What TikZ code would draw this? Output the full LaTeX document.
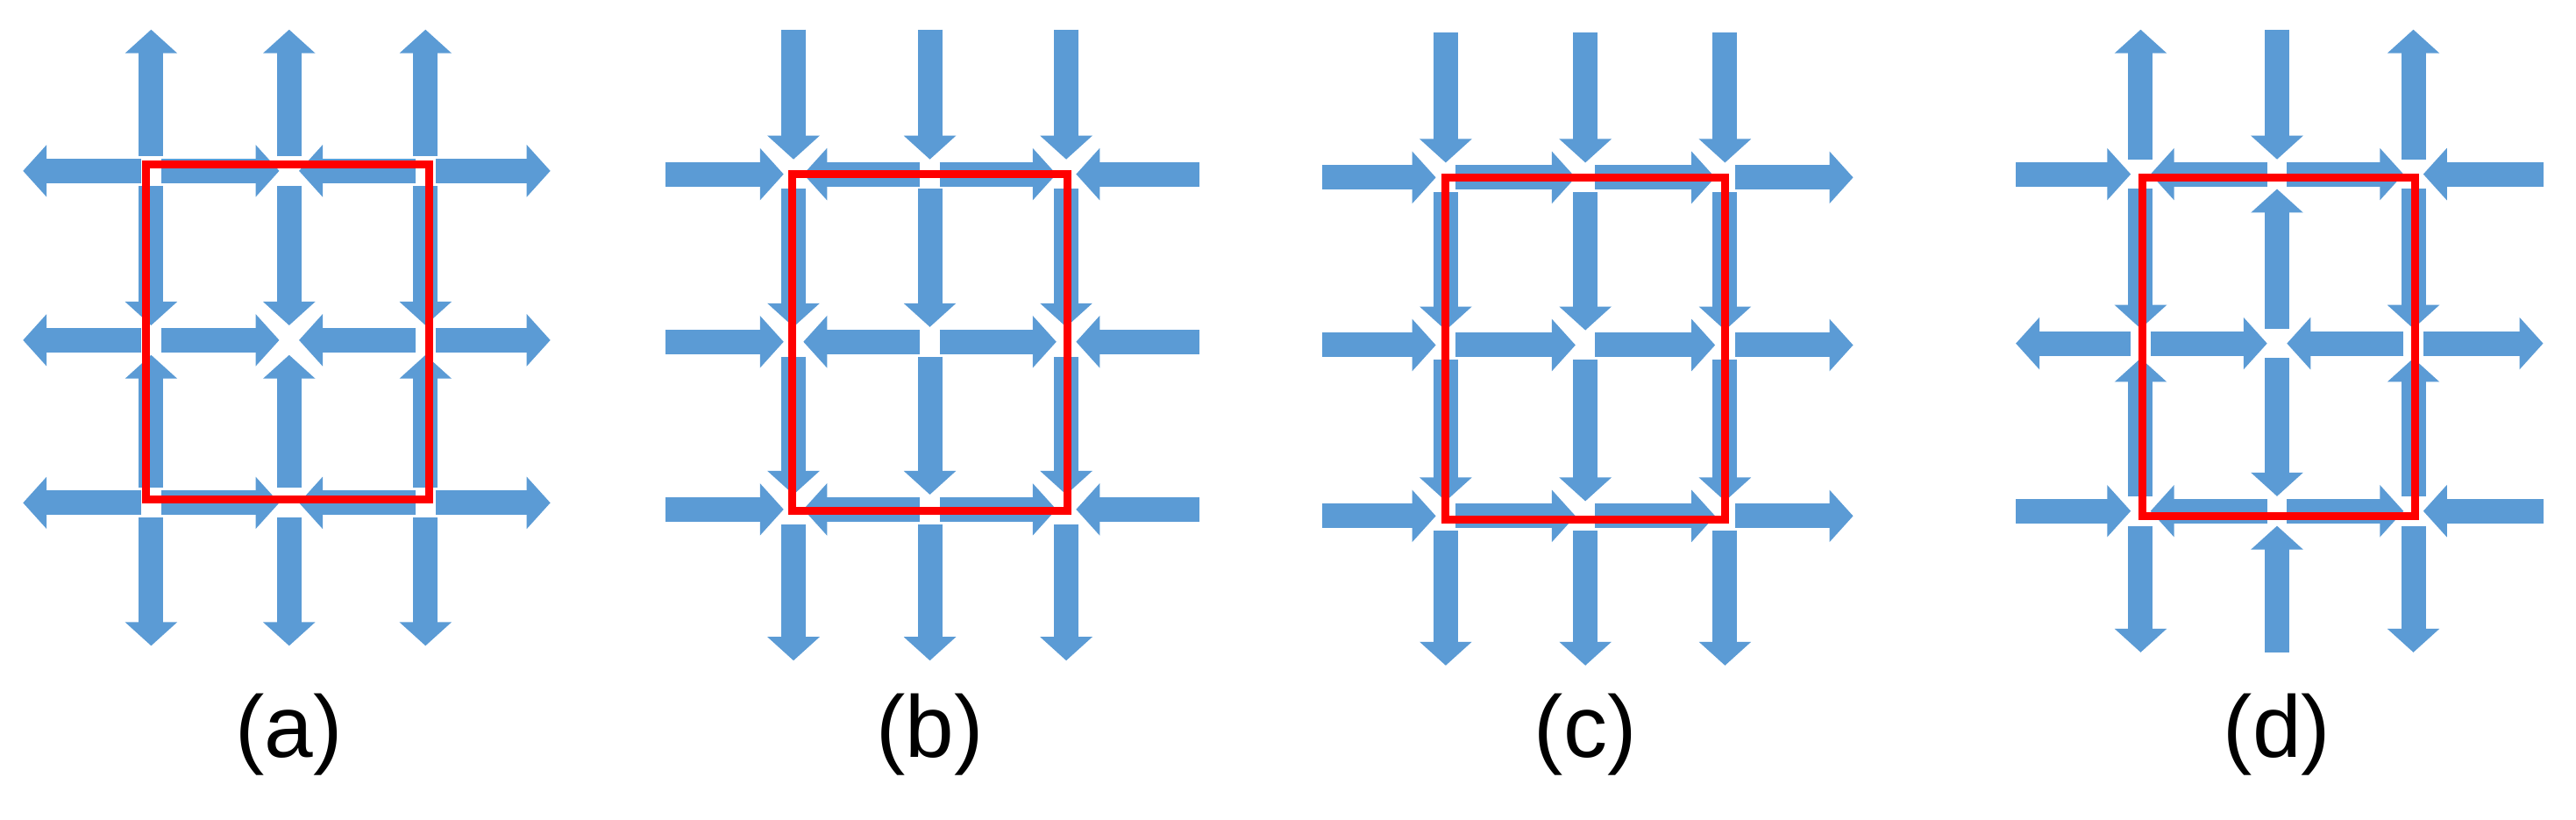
\documentclass[tikz,border=0pt]{standalone}
\usepackage{fontspec}
\setmainfont{Liberation Sans}
\usetikzlibrary{arrows.meta}
\definecolor{ablue}{HTML}{5B9BD5}
\tikzset{blk/.style={draw=ablue,line width=28pt,-{Triangle[width=58pt,length=27pt]}},
 redbox/.style={draw=red,line width=9pt},
 lbl/.style={font=\fontsize{100}{110}\selectfont}}
\newcommand\seg[5]{\if#1f\draw[blk] (#2,#3)--(#4,#5);\else\draw[blk] (#4,#5)--(#2,#3);\fi}
\newcommand\tops[3]{\seg{#1}{\ca}{\T}{\ca}{\ra-9}\seg{#2}{\cb}{\T}{\cb}{\ra-9}\seg{#3}{\cc}{\T}{\cc}{\ra-9}}
\newcommand\bots[3]{\seg{#1}{\ca}{\B}{\ca}{\rc+9}\seg{#2}{\cb}{\B}{\cb}{\rc+9}\seg{#3}{\cc}{\B}{\cc}{\rc+9}}
\newcommand\lefts[3]{\seg{#1}{\L}{\ra}{\ca-6}{\ra}\seg{#2}{\L}{\rb}{\ca-6}{\rb}\seg{#3}{\L}{\rc}{\ca-6}{\rc}}
\newcommand\rights[3]{\seg{#1}{\R}{\ra}{\cc+6}{\ra}\seg{#2}{\R}{\rb}{\cc+6}{\rb}\seg{#3}{\R}{\rc}{\cc+6}{\rc}}
\newcommand\hin[6]{\seg{#1}{\ca+6}{\ra}{\cb-6}{\ra}\seg{#2}{\cc-6}{\ra}{\cb+6}{\ra}%
\seg{#3}{\ca+6}{\rb}{\cb-6}{\rb}\seg{#4}{\cc-6}{\rb}{\cb+6}{\rb}%
\seg{#5}{\ca+6}{\rc}{\cb-6}{\rc}\seg{#6}{\cc-6}{\rc}{\cb+6}{\rc}}
\newcommand\vin[6]{\seg{#1}{\ca}{\ra+9}{\ca}{\rb-9}\seg{#2}{\ca}{\rc-9}{\ca}{\rb+9}%
\seg{#3}{\cb}{\ra+9}{\cb}{\rb-9}\seg{#4}{\cb}{\rc-9}{\cb}{\rb+9}%
\seg{#5}{\cc}{\ra+9}{\cc}{\rb-9}\seg{#6}{\cc}{\rc-9}{\cc}{\rb+9}}
\newcommand\setp[9]{\def\ca{#1}\def\cb{#2}\def\cc{#3}\def\ra{#4}\def\rb{#5}\def\rc{#6}\def\L{#7}\def\R{#8}\def\T{#9}}
\begin{document}
\begin{tikzpicture}[x=1.8737pt,y=-1.8737pt]
\useasboundingbox (0,0) rectangle (1568,499);
% (a)
\setp{92}{176}{259}{104}{207}{306}{14}{335}{18}\def\B{393}
\tops bbb \bots bbb \lefts bbb \rights bbb \hin ffffff \vin ffffff
\draw[redbox] (\ca-3,\ra-4) rectangle (\cc+2,\rc-2);
\node[lbl] (la) at (176,447) {(a)};
% (b)
\setp{483}{566}{649}{106}{208}{310}{405}{730}{18}\def\B{402}
\tops fff \bots bbb \lefts fff \rights fff \hin bbbbbb \vin fbfbfb
\draw[redbox] (\ca-1,\ra) rectangle (\cc+1,\rc+1);
\node[lbl] (lb) at (566,447) {(b)};
% (c)
\setp{880}{965}{1050}{108}{210}{314}{805}{1128}{20}\def\B{405}
\tops fff \bots bbb \lefts fff \rights bbb \hin fbfbfb \vin fbfbfb
\draw[redbox] (\ca,\ra) rectangle (\cc,\rc+2);
\node[lbl] (lc) at (965,447) {(c)};
% (d)
\setp{1303}{1386}{1469}{106}{209}{311}{1227}{1548}{18}\def\B{397}
\tops bfb \bots bfb \lefts fbf \rights fbf \hin bbffbb \vin ffbbff
\draw[redbox] (\ca+1,\ra+2) rectangle (\cc+1,\rc+3);
\node[lbl] (ld) at (1386,447) {(d)};
\end{tikzpicture}
\end{document}
